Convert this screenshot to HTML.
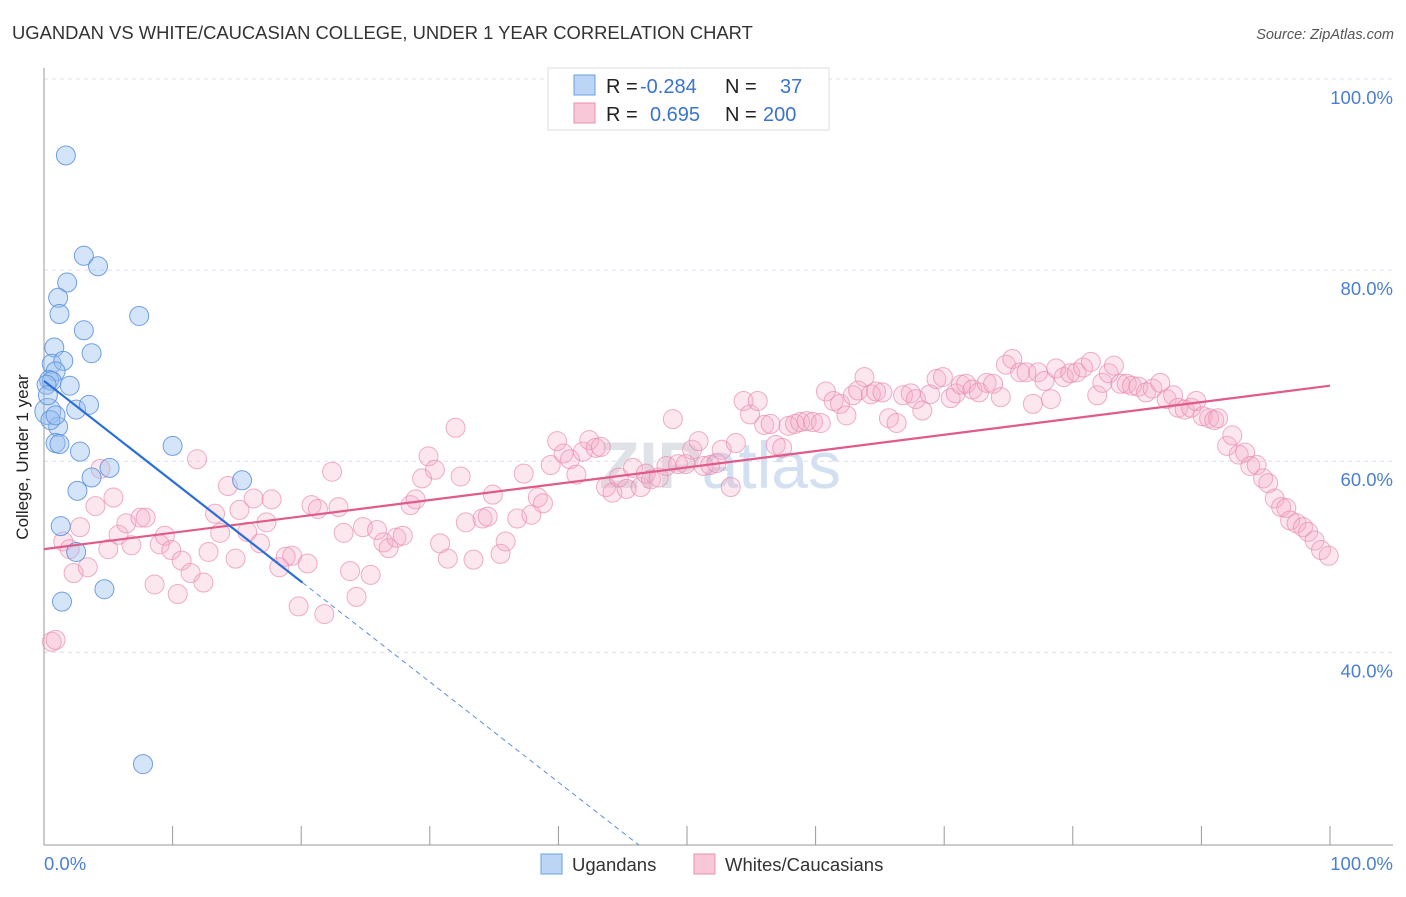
<!DOCTYPE html>
<html><head><meta charset="utf-8"><style>
body{margin:0;background:#fff;font-family:"Liberation Sans",sans-serif;}
svg text{font-family:"Liberation Sans",sans-serif;}
</style></head><body>
<svg id="chart" width="1406" height="892">
<text x="12" y="39" font-size="18.4" fill="#333">UGANDAN VS WHITE/CAUCASIAN COLLEGE, UNDER 1 YEAR CORRELATION CHART</text>
<text x="1394" y="39" font-size="14.5" fill="#555" font-style="italic" text-anchor="end">Source: ZipAtlas.com</text>
<text x="720" y="488" font-size="66" fill="#dfe3e8" text-anchor="middle" font-weight="bold">ZIP<tspan fill="#d3e0f2" font-weight="normal">atlas</tspan></text>
<g id="grid"></g><g id="axes"></g><g id="pinkg"></g><g id="blueg"></g><g id="lines"></g>
<text x="28" y="457" font-size="17" fill="#222" text-anchor="middle" transform="rotate(-90 28 457)">College, Under 1 year</text>
<text x="44" y="870" font-size="18.5" fill="#4a7fd4">0.0%</text>
<text x="1393" y="870" font-size="18.5" fill="#4a7fd4" text-anchor="end">100.0%</text>
<g>
<rect x="541" y="854" width="21" height="20" fill="#bcd5f5" stroke="#6aa0e0"/>
<text x="572" y="871" font-size="18.5" fill="#333">Ugandans</text>
<rect x="694" y="854" width="21" height="20" fill="#f9c8d8" stroke="#e890b0"/>
<text x="725" y="871" font-size="18.5" fill="#333">Whites/Caucasians</text>
</g>
<g>
<rect x="548" y="68" width="281" height="62" fill="#fff" stroke="#ddd"/>
<rect x="574" y="75" width="21" height="20" fill="#bcd5f5" stroke="#6aa0e0"/>
<rect x="574" y="103" width="21" height="20" fill="#f9c8d8" stroke="#e890b0"/>
<text x="606" y="93" font-size="20" fill="#222">R = <tspan x="640" fill="#3a73d0">-0.284</tspan></text>
<text x="725" y="93" font-size="20" fill="#222">N = <tspan x="780" fill="#3a73d0">37</tspan></text>
<text x="606" y="121" font-size="20" fill="#222">R = <tspan x="650" fill="#3a73d0">0.695</tspan></text>
<text x="725" y="121" font-size="20" fill="#222">N = <tspan x="763" fill="#3a73d0">200</tspan></text>
</g>
</svg>
<script>
const yTicks=[100,80,60,40];
const yTickLabels=["100.0%","80.0%","60.0%","40.0%"];
const xTicks=[0,10,20,30,40,50,60,70,80,90,100];
const blueX=[1.7,3.1,4.2,1.8,1.1,1.2,7.4,3.1,3.7,0.8,0.6,1.5,0.9,0.4,0.6,2.0,0.3,2.5,3.5,1.1,0.9,1.2,2.8,10.0,5.1,3.7,2.6,15.4,1.3,2.5,1.4,4.7,7.7,0.2,0.3,0.5,0.9];
const blueY=[92.0,81.5,80.4,78.7,77.1,75.4,75.2,73.7,71.3,71.9,70.2,70.5,69.4,68.5,68.4,67.9,65.2,65.4,65.9,63.6,61.9,61.8,61.0,61.6,59.3,58.3,56.9,58.0,53.2,50.5,45.3,46.6,28.3,68.0,66.9,64.3,64.8];
const pinkX=[0.6,0.9,1.5,2.0,2.3,2.8,3.4,4.0,4.4,5.0,5.4,5.8,6.4,6.8,7.5,7.9,8.6,9.0,9.4,9.9,10.4,10.7,11.4,11.9,12.4,12.8,13.3,13.7,14.3,14.9,15.2,15.8,16.3,16.8,17.3,17.7,18.3,18.8,19.3,19.8,20.5,20.8,21.3,21.8,22.4,22.9,23.3,23.8,24.3,24.8,25.4,25.9,26.4,26.8,27.4,27.9,28.5,28.9,29.4,29.9,30.4,30.8,31.4,32.0,32.4,32.8,33.4,34.1,34.5,34.9,35.5,35.9,36.8,37.3,37.9,38.4,38.8,39.4,39.9,40.4,40.9,41.4,41.9,42.4,42.9,43.3,43.7,44.2,44.7,45.3,45.8,46.4,46.8,47.2,47.8,48.4,48.9,49.3,49.9,50.4,50.9,51.3,51.8,52.3,52.7,53.4,53.8,54.4,54.9,55.5,56.0,56.5,56.9,57.4,57.9,58.4,58.8,59.3,59.8,60.4,60.8,61.4,61.9,62.4,62.9,63.3,63.8,64.3,64.7,65.2,65.7,66.3,66.8,67.4,67.8,68.3,68.9,69.4,69.9,70.5,70.9,71.3,71.7,72.2,72.7,73.3,73.8,74.4,74.8,75.3,75.9,76.4,76.9,77.3,77.8,78.3,78.7,79.3,79.8,80.3,80.8,81.4,81.9,82.3,82.8,83.2,83.7,84.2,84.6,85.1,85.7,86.2,86.8,87.3,87.8,88.2,88.7,89.2,89.6,90.1,90.6,91.0,91.3,92.0,92.4,92.9,93.4,93.8,94.3,94.8,95.2,95.7,96.2,96.6,96.9,97.4,97.9,98.3,98.8,99.3,99.9];
const pinkY=[41.1,41.3,51.6,50.8,48.3,53.1,48.9,55.3,59.2,50.8,56.2,52.3,53.5,51.2,54.1,54.1,47.1,51.3,52.2,50.7,46.1,49.6,48.3,60.2,47.3,50.5,54.5,52.5,57.4,49.8,54.9,52.6,56.1,51.4,53.6,56.0,48.9,50.0,50.1,44.8,49.3,55.4,55.0,44.0,58.9,55.2,52.5,48.5,45.8,53.1,48.1,52.8,51.5,50.9,52.0,52.2,55.4,56.0,58.2,60.5,59.1,51.4,49.8,63.5,58.4,53.6,49.7,54.0,54.2,56.5,50.3,51.6,54.0,58.7,54.4,56.2,55.6,59.6,62.1,60.8,60.2,58.6,61.0,62.2,61.4,61.5,57.3,56.7,58.3,57.1,59.3,57.3,58.7,58.1,58.3,59.5,64.4,59.7,59.7,61.2,62.1,59.5,59.6,59.8,61.2,57.3,61.9,66.3,64.9,66.3,63.8,63.9,61.7,61.4,63.7,63.9,64.1,64.2,64.1,64.0,67.3,66.3,66.0,64.8,66.9,67.4,68.8,67.0,67.3,67.2,64.5,64.0,66.9,67.1,66.5,65.3,67.0,68.6,68.8,66.6,67.1,68.0,68.1,67.5,67.2,68.2,68.1,66.7,70.1,70.7,69.3,69.3,66.0,69.3,68.4,66.5,69.7,68.8,69.2,69.3,69.8,70.4,66.9,68.2,69.2,70.0,68.1,68.1,67.9,67.8,67.2,67.6,68.2,66.5,66.9,65.6,65.4,65.6,66.3,64.7,64.5,64.3,64.5,61.6,62.7,60.7,60.9,59.5,59.6,58.2,57.7,56.1,55.2,55.1,53.8,53.5,53.1,52.6,51.7,50.7,50.1];
const blueTrend=[68.4,-1.05];  // intercept, slope
const pinkTrend=[50.8,0.171];

const NS="http://www.w3.org/2000/svg";
const X0=44,X1=1330,YTOP=79,PPU=9.555;
function sx(v){return X0+(X1-X0)*v/100;}
function sy(v){return YTOP+(100-v)*PPU;}
function mk(tag,attrs,parent){const e=document.createElementNS(NS,tag);for(const k in attrs)e.setAttribute(k,attrs[k]);parent.appendChild(e);return e;}
const grid=document.getElementById('grid'),axes=document.getElementById('axes');
yTicks.forEach((t,i)=>{
  const l=mk('line',{x1:44,x2:1393,y1:sy(t),y2:sy(t),stroke:'#dde',"stroke-dasharray":'4,4'},grid);
  
  
  const tx=mk('text',{x:1393,y:sy(t)+25,"font-size":18.5,fill:'#4a7fd4',"text-anchor":'end'},grid);
  tx.textContent=yTickLabels[i];
  
  
});
const ya=mk('line',{x1:44,x2:44,y1:68,y2:845,stroke:'#999'},axes);


const xa=mk('line',{x1:44,x2:1393,y1:845,y2:845,stroke:'#999'},axes);


xTicks.forEach(t=>{
  const l=mk('line',{x1:sx(t),x2:sx(t),y1:826,y2:845,stroke:'#999'},axes);
  
  
});
const pg=document.getElementById('pinkg');
pinkX.forEach((x,i)=>{
  const c=mk('circle',{cx:sx(x),cy:sy(pinkY[i]),r:9.5,fill:'rgba(244,170,198,0.28)',stroke:'rgba(232,140,176,0.7)',"stroke-width":1},pg);
  
  
});
const bg=document.getElementById('blueg');
blueX.forEach((x,i)=>{
  const c=mk('circle',{cx:sx(x),cy:sy(blueY[i]),r:(i===16?13:9.5),fill:'rgba(150,190,240,0.4)',stroke:'rgba(90,145,220,0.85)',"stroke-width":1},bg);
  
  
});
const lg=document.getElementById('lines');
const pl=mk('line',{x1:sx(0),y1:sy(pinkTrend[0]),x2:sx(100),y2:sy(pinkTrend[0]+pinkTrend[1]*100),stroke:'#e05a8a',"stroke-width":2.2},lg);


const bEnd=20.1;
const bl=mk('line',{x1:sx(0),y1:sy(blueTrend[0]),x2:sx(bEnd),y2:sy(blueTrend[0]+blueTrend[1]*bEnd),stroke:'#2a6fd8',"stroke-width":2.2},lg);


const bx2=(blueTrend[0]-19.8)/(-blueTrend[1]);
const bd=mk('line',{x1:sx(bEnd),y1:sy(blueTrend[0]+blueTrend[1]*bEnd),x2:sx(bx2),y2:sy(19.8),stroke:'#5a8fdc',"stroke-width":1,"stroke-dasharray":'5,4'},lg);


</script>
</body></html>
